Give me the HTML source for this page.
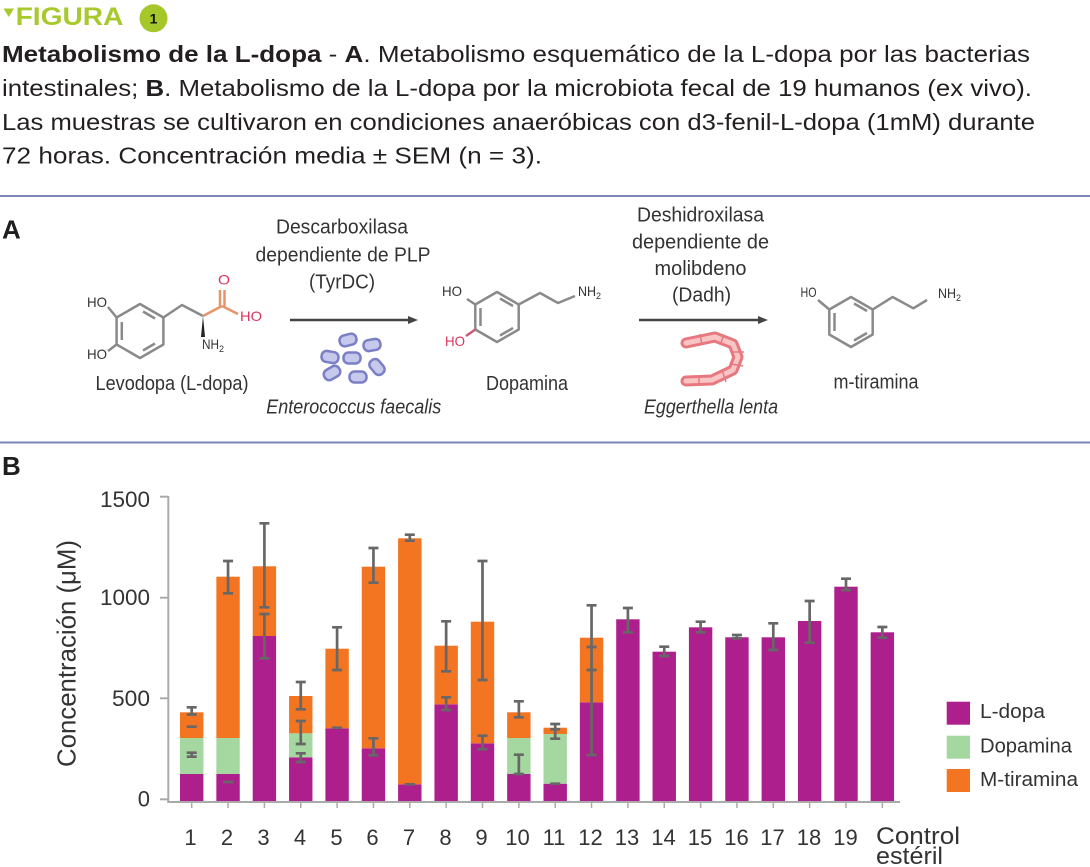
<!DOCTYPE html>
<html><head><meta charset="utf-8"><style>
html,body{margin:0;padding:0;background:#fff;}
svg{display:block;}
text{font-family:"Liberation Sans",sans-serif;}
</style></head><body>
<svg width="1090" height="867" viewBox="0 0 1090 867" xmlns="http://www.w3.org/2000/svg">
<rect width="1090" height="867" fill="#fff"/>
<!-- Header -->
<polygon points="3.5,8.5 14,8.5 8.75,17" fill="#a8c92e"/>
<text x="15.6" y="25" font-size="25" font-weight="bold" fill="#a8c92e" textLength="107.8" lengthAdjust="spacingAndGlyphs">FIGURA</text>
<circle cx="153.5" cy="18.3" r="14" fill="#a6c72a"/>
<text x="153.5" y="23.3" font-size="14" font-weight="bold" fill="#111" text-anchor="middle">1</text>

<g fill="#231f20" font-size="23">
<text x="2" y="62" textLength="1028" lengthAdjust="spacingAndGlyphs"><tspan font-weight="bold">Metabolismo de la L-dopa</tspan> - <tspan font-weight="bold">A</tspan>. Metabolismo esquemático de la L-dopa por las bacterias</text>
<text x="2" y="96" textLength="1030" lengthAdjust="spacingAndGlyphs">intestinales; <tspan font-weight="bold">B</tspan>. Metabolismo de la L-dopa por la microbiota fecal de 19 humanos (ex vivo).</text>
<text x="2" y="130" textLength="1033" lengthAdjust="spacingAndGlyphs">Las muestras se cultivaron en condiciones anaeróbicas con d3-fenil-L-dopa (1mM) durante</text>
<text x="2" y="163.5" textLength="540" lengthAdjust="spacingAndGlyphs">72 horas. Concentración media ± SEM (n = 3).</text>
</g>

<line x1="0" y1="196" x2="1090" y2="196" stroke="#7c86b8" stroke-width="2"/>
<line x1="0" y1="442.5" x2="1090" y2="442.5" stroke="#7c86b8" stroke-width="2"/>

<text x="2" y="238.5" font-size="26" font-weight="bold" fill="#1e1e1e">A</text>
<text x="2" y="475" font-size="26" font-weight="bold" fill="#1e1e1e">B</text>

<!-- Section A texts -->
<g fill="#333" font-size="20" text-anchor="middle">
<text x="342" y="233.3" textLength="132" lengthAdjust="spacingAndGlyphs">Descarboxilasa</text>
<text x="343" y="261.7" textLength="175" lengthAdjust="spacingAndGlyphs">dependiente de PLP</text>
<text x="342" y="288.3" textLength="66" lengthAdjust="spacingAndGlyphs">(TyrDC)</text>
<text x="700.5" y="221.7" textLength="127" lengthAdjust="spacingAndGlyphs">Deshidroxilasa</text>
<text x="700.5" y="248.3" textLength="137" lengthAdjust="spacingAndGlyphs">dependiente de</text>
<text x="700.5" y="275" textLength="92" lengthAdjust="spacingAndGlyphs">molibdeno</text>
<text x="701.5" y="301.7" textLength="59" lengthAdjust="spacingAndGlyphs">(Dadh)</text>
<text x="172" y="390" textLength="153" lengthAdjust="spacingAndGlyphs">Levodopa (L-dopa)</text>
<text x="527" y="390" textLength="82" lengthAdjust="spacingAndGlyphs">Dopamina</text>
<text x="876" y="388.3" textLength="85" lengthAdjust="spacingAndGlyphs">m-tiramina</text>
<text x="353.7" y="413.3" font-style="italic" textLength="175" lengthAdjust="spacingAndGlyphs">Enterococcus faecalis</text>
<text x="711" y="413.3" font-style="italic" textLength="134" lengthAdjust="spacingAndGlyphs">Eggerthella lenta</text>
</g>

<!-- Arrows -->
<g stroke="#444" stroke-width="2.5">
<line x1="290" y1="320" x2="409" y2="320"/>
<line x1="639" y1="320" x2="759" y2="320"/>
</g>
<polygon points="408,316 418,320 408,324" fill="#444"/>
<polygon points="758,316 768,320 758,324" fill="#444"/>

<!-- Bacteria E. faecalis -->
<g fill="#c6c8ec" stroke="#7b7fc6" stroke-width="2.5">
<rect x="-8.5" y="-5.5" width="17" height="11" rx="5" transform="translate(348,340) rotate(-15)"/>
<rect x="-8.5" y="-5.5" width="17" height="11" rx="5" transform="translate(372,345) rotate(-10)"/>
<rect x="-8.5" y="-5.5" width="17" height="11" rx="5" transform="translate(330,357) rotate(10)"/>
<rect x="-8.5" y="-5.5" width="17" height="11" rx="5" transform="translate(352,358)"/>
<rect x="-8.5" y="-5.5" width="17" height="11" rx="5" transform="translate(377,367) rotate(50)"/>
<rect x="-8.5" y="-5.5" width="17" height="11" rx="5" transform="translate(332,373) rotate(-30)"/>
<rect x="-8.5" y="-5.5" width="17" height="11" rx="5" transform="translate(358,377)"/>
</g>

<!-- Eggerthella -->
<path d="M686,343 L715,337 L733,344 L738,357 L733,370 L712,380 L686,381" fill="none" stroke="#e8787f" stroke-width="11" stroke-linejoin="round" stroke-linecap="round"/>
<path d="M686,343 L715,337 L733,344 L738,357 L733,370 L712,380 L686,381" fill="none" stroke="#f8c4c4" stroke-width="5" stroke-linejoin="round" stroke-linecap="round"/>
<g stroke="#e8787f" stroke-width="1.5">
<line x1="700" y1="334" x2="702" y2="345"/>
<line x1="724" y1="335" x2="720" y2="345"/>
<line x1="731" y1="352" x2="744" y2="352"/>
<line x1="731" y1="364" x2="743" y2="366"/>
<line x1="722" y1="370" x2="726" y2="382"/>
<line x1="699" y1="375" x2="699" y2="386"/>
</g>

<!-- Levodopa -->
<g fill="none" stroke="#8a8a8a" stroke-width="2.5" stroke-linejoin="round">
<polygon points="140,304 163.4,317.5 163.4,344.5 140,358 116.6,344.5 116.6,317.5"/>
<line x1="121.8" y1="322" x2="121.8" y2="340"/>
<line x1="143" y1="311.5" x2="155" y2="318.5"/>
<line x1="155" y1="343.5" x2="143" y2="350.5"/>
<polyline points="163.4,317.5 182,305 203,316"/>
<line x1="116.6" y1="317.5" x2="108" y2="307"/>
<line x1="116.6" y1="344.5" x2="108" y2="351"/>
</g>
<g fill="none" stroke="#e9936b" stroke-width="2.5">
<line x1="203" y1="316" x2="222" y2="306"/>
<line x1="220" y1="306" x2="220" y2="290"/>
<line x1="224.5" y1="306" x2="224.5" y2="290"/>
<line x1="222" y1="306" x2="238" y2="314"/>
</g>
<polygon points="203,316 201,337 205,337" fill="#222"/>
<g font-size="14" fill="#333">
<text x="87" y="307" textLength="20" lengthAdjust="spacingAndGlyphs">HO</text>
<text x="87" y="359" textLength="20" lengthAdjust="spacingAndGlyphs">HO</text>
<text x="202" y="349" textLength="17" lengthAdjust="spacingAndGlyphs">NH</text><text x="219" y="352" font-size="9">2</text>
<text x="218" y="284.5" fill="#d8365e" textLength="12" lengthAdjust="spacingAndGlyphs">O</text>
<text x="240" y="321" fill="#d8365e" textLength="22" lengthAdjust="spacingAndGlyphs">HO</text>
</g>

<!-- Dopamina -->
<g fill="none" stroke="#8a8a8a" stroke-width="2.5" stroke-linejoin="round">
<polygon points="497,292 518.7,304.5 518.7,329.5 497,342 475.3,329.5 475.3,304.5"/>
<line x1="480.5" y1="308" x2="480.5" y2="326"/>
<line x1="500" y1="298.5" x2="513" y2="306"/>
<line x1="513" y1="328" x2="500" y2="335.5"/>
<polyline points="518.7,304.5 540,293 558,303 575,296"/>
<line x1="475.3" y1="304.5" x2="467" y2="299"/>
</g>
<line x1="475.3" y1="329.5" x2="466" y2="336" stroke="#c95a7a" stroke-width="2.5"/>
<g font-size="14" fill="#333">
<text x="442" y="296" textLength="20" lengthAdjust="spacingAndGlyphs">HO</text>
<text x="445" y="346" fill="#d8365e" textLength="20" lengthAdjust="spacingAndGlyphs">HO</text>
<text x="578" y="296" textLength="18" lengthAdjust="spacingAndGlyphs">NH</text><text x="596" y="299" font-size="9">2</text>
</g>

<!-- m-tiramina -->
<g fill="none" stroke="#8a8a8a" stroke-width="2.5" stroke-linejoin="round">
<polygon points="851,297 872.7,309.5 872.7,334.5 851,347 829.3,334.5 829.3,309.5"/>
<line x1="834.5" y1="313" x2="834.5" y2="331"/>
<line x1="854" y1="303.5" x2="867" y2="311"/>
<line x1="867" y1="333" x2="854" y2="340.5"/>
<polyline points="872.7,309.5 892.6,297 913.4,308.3 927,300"/>
<line x1="829.3" y1="309.5" x2="818" y2="300"/>
</g>
<g font-size="14" fill="#333">
<text x="800.5" y="297" textLength="16" lengthAdjust="spacingAndGlyphs">HO</text>
<text x="938" y="298" textLength="18" lengthAdjust="spacingAndGlyphs">NH</text><text x="956" y="301" font-size="9">2</text>
</g>

<!-- Chart B -->
<!-- axes -->
<g stroke="#aaa" stroke-width="2">
<line x1="168.3" y1="496" x2="168.3" y2="802.5"/>
<line x1="167.3" y1="802" x2="900" y2="802"/>
<line x1="160" y1="496.7" x2="168" y2="496.7"/>
<line x1="160" y1="597.7" x2="168" y2="597.7"/>
<line x1="160" y1="698.3" x2="168" y2="698.3"/>
<line x1="160" y1="799.3" x2="168" y2="799.3"/>
</g>
<g stroke="#aaa" stroke-width="1.5">
<path d="M191.7 803v5M228.05 803v5M264.4 803v5M300.75 803v5M337.1 803v5M373.45 803v5M409.8 803v5M446.15 803v5M482.5 803v5M518.85 803v5M555.2 803v5M591.55 803v5M627.9 803v5M664.25 803v5M700.6 803v5M736.95 803v5M773.3 803v5M809.65 803v5M846 803v5M882.35 803v5"/>
</g>
<g font-size="22" fill="#333" text-anchor="end">
<text x="150" y="507" textLength="50" lengthAdjust="spacingAndGlyphs">1500</text>
<text x="150" y="605" textLength="50" lengthAdjust="spacingAndGlyphs">1000</text>
<text x="150" y="706" textLength="38" lengthAdjust="spacingAndGlyphs">500</text>
<text x="150" y="806.5">0</text>
</g>
<text transform="translate(75.5,653.5) rotate(-90)" font-size="26" fill="#333" text-anchor="middle" textLength="227" lengthAdjust="spacingAndGlyphs">Concentración (μM)</text>

<!-- bars -->
<g>
<!-- 1 -->
<rect x="180" y="774" width="23.4" height="27" fill="#ad1f8d"/>
<rect x="180" y="738" width="23.4" height="36" fill="#a5d7a0"/>
<rect x="180" y="712.3" width="23.4" height="25.7" fill="#f37521"/>
<!-- 2 -->
<rect x="216.35" y="774" width="23.4" height="27" fill="#ad1f8d"/>
<rect x="216.35" y="738" width="23.4" height="36" fill="#a5d7a0"/>
<rect x="216.35" y="576.7" width="23.4" height="161.3" fill="#f37521"/>
<!-- 3 -->
<rect x="252.7" y="636" width="23.4" height="165" fill="#ad1f8d"/>
<rect x="252.7" y="566.3" width="23.4" height="69.7" fill="#f37521"/>
<!-- 4 -->
<rect x="289.05" y="757.3" width="23.4" height="43.7" fill="#ad1f8d"/>
<rect x="289.05" y="733.3" width="23.4" height="24" fill="#a5d7a0"/>
<rect x="289.05" y="696" width="23.4" height="37.3" fill="#f37521"/>
<!-- 5 -->
<rect x="325.4" y="728.3" width="23.4" height="72.7" fill="#ad1f8d"/>
<rect x="325.4" y="648.7" width="23.4" height="79.6" fill="#f37521"/>
<!-- 6 -->
<rect x="361.75" y="748.3" width="23.4" height="52.7" fill="#ad1f8d"/>
<rect x="361.75" y="566.7" width="23.4" height="181.6" fill="#f37521"/>
<!-- 7 -->
<rect x="398.1" y="784.3" width="23.4" height="16.7" fill="#ad1f8d"/>
<rect x="398.1" y="538.3" width="23.4" height="246" fill="#f37521"/>
<!-- 8 -->
<rect x="434.45" y="704.3" width="23.4" height="96.7" fill="#ad1f8d"/>
<rect x="434.45" y="645.7" width="23.4" height="58.6" fill="#f37521"/>
<!-- 9 -->
<rect x="470.8" y="743.3" width="23.4" height="57.7" fill="#ad1f8d"/>
<rect x="470.8" y="621.7" width="23.4" height="121.6" fill="#f37521"/>
<!-- 10 -->
<rect x="507.15" y="774" width="23.4" height="27" fill="#ad1f8d"/>
<rect x="507.15" y="738" width="23.4" height="36" fill="#a5d7a0"/>
<rect x="507.15" y="712.3" width="23.4" height="25.7" fill="#f37521"/>
<!-- 11 -->
<rect x="543.5" y="783.7" width="23.4" height="17.3" fill="#ad1f8d"/>
<rect x="543.5" y="734" width="23.4" height="49.7" fill="#a5d7a0"/>
<rect x="543.5" y="727.7" width="23.4" height="6.3" fill="#f37521"/>
<!-- 12 -->
<rect x="579.85" y="702.3" width="23.4" height="98.7" fill="#ad1f8d"/>
<rect x="579.85" y="637.7" width="23.4" height="64.6" fill="#f37521"/>
<!-- 13-19, control -->
<rect x="616.2" y="619.3" width="23.4" height="181.7" fill="#ad1f8d"/>
<rect x="652.55" y="651.7" width="23.4" height="149.3" fill="#ad1f8d"/>
<rect x="688.9" y="627.3" width="23.4" height="173.7" fill="#ad1f8d"/>
<rect x="725.25" y="637.3" width="23.4" height="163.7" fill="#ad1f8d"/>
<rect x="761.6" y="637.3" width="23.4" height="163.7" fill="#ad1f8d"/>
<rect x="797.95" y="621" width="23.4" height="180" fill="#ad1f8d"/>
<rect x="834.3" y="586.7" width="23.4" height="214.3" fill="#ad1f8d"/>
<rect x="870.65" y="632.3" width="23.4" height="168.7" fill="#ad1f8d"/>
</g>

<!-- error bars -->
<path fill="none" stroke="#676767" stroke-width="2.7" d="
M191.7 707.3V714.5M186.7 707.3h10M186.7 714.5h10M186.7 726.7h10M191.7 752.7V756.7M186.7 752.7h10M186.7 756.7h10
M228.05 561V593.3M223.05 561h10M223.05 593.3h10M223.05 782h10
M264.4 523.3V607.3M259.4 523.3h10M259.4 607.3h10M264.4 614V658.3M259.4 614h10M259.4 658.3h10
M300.75 682V709.3M295.75 682h10M295.75 709.3h10M300.75 721V744M295.75 721h10M295.75 744h10M300.75 753.3V762M295.75 753.3h10M295.75 762h10
M337.1 627.3V670M332.1 627.3h10M332.1 670h10M332.1 727.7h10
M373.45 548V582.7M368.45 548h10M368.45 582.7h10M373.45 738.3V755.3M368.45 738.3h10M368.45 755.3h10
M409.8 534.7V540.7M404.8 534.7h10M404.8 540.7h10M404.8 784.3h10
M446.15 621.3V671.3M441.15 621.3h10M441.15 671.3h10M446.15 697.3V710M441.15 697.3h10M441.15 710h10
M482.5 561V680M477.5 561h10M477.5 680h10M482.5 735.7V749.3M477.5 735.7h10M477.5 749.3h10
M518.85 701.3V717.3M513.85 701.3h10M513.85 717.3h10M518.85 754.7V774M513.85 754.7h10M513.85 774h10
M555.2 724V738.7M550.2 724h10M550.2 729.3h10M550.2 738.7h10M550.2 783.7h10
M591.55 605.3V755M586.55 605.3h10M586.55 647h10M586.55 670h10M586.55 755h10
M627.9 608V632.3M622.9 608h10M622.9 632.3h10
M664.25 646.7V656M659.25 646.7h10M659.25 656h10
M700.6 621.7V632.3M695.6 621.7h10M695.6 632.3h10
M736.95 635V638.3M731.95 635h10M731.95 638.3h10
M773.3 623.3V650M768.3 623.3h10M768.3 650h10
M809.65 601V642.7M804.65 601h10M804.65 642.7h10
M846 578.7V590M841 578.7h10M841 590h10
M882.35 627V637.7M877.35 627h10M877.35 637.7h10"/>

<!-- x labels -->
<g font-size="22" fill="#333" text-anchor="middle">
<text x="190.5" y="845">1</text>
<text x="227" y="845">2</text>
<text x="263.5" y="845">3</text>
<text x="300" y="845">4</text>
<text x="336.5" y="845">5</text>
<text x="372.5" y="845">6</text>
<text x="409" y="845">7</text>
<text x="445.5" y="845">8</text>
<text x="481.5" y="845">9</text>
<text x="517.5" y="845">10</text>
<text x="554" y="845">11</text>
<text x="590.5" y="845">12</text>
<text x="627" y="845">13</text>
<text x="663.5" y="845">14</text>
<text x="700" y="845">15</text>
<text x="736.5" y="845">16</text>
<text x="772.5" y="845">17</text>
<text x="809" y="845">18</text>
<text x="845.5" y="845">19</text>
</g>
<text x="876" y="844" font-size="24" fill="#333" textLength="84" lengthAdjust="spacingAndGlyphs">Control</text>
<text x="876" y="864" font-size="24" fill="#333" textLength="67" lengthAdjust="spacingAndGlyphs">estéril</text>

<!-- legend -->
<rect x="946.7" y="701.7" width="23.3" height="23" fill="#ad1f8d"/>
<rect x="946.7" y="735.7" width="23.3" height="23" fill="#a5d7a0"/>
<rect x="946.7" y="769" width="23.3" height="23" fill="#f37521"/>
<g font-size="20" fill="#333">
<text x="980" y="718" textLength="65" lengthAdjust="spacingAndGlyphs">L-dopa</text>
<text x="980" y="752.5" textLength="92" lengthAdjust="spacingAndGlyphs">Dopamina</text>
<text x="980" y="786" textLength="98" lengthAdjust="spacingAndGlyphs">M-tiramina</text>
</g>
</svg>
</body></html>
